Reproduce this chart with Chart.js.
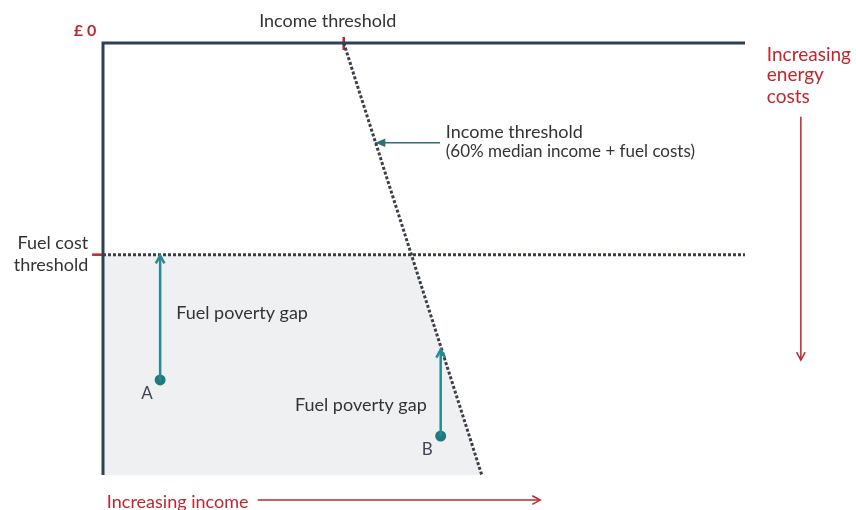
<!DOCTYPE html>
<html lang="en">
<head>
    <title>Fuel poverty gap</title>
    <meta charset="UTF-8">
    <style>
        body {
            margin: 0;
            background: #ffffff;
        }
        #chart-container {
            width: 856px;
            height: 510px;
        }
    </style>
</head>
<body>
<div id="chart-container">
    <canvas id="gap-plot"></canvas>
</div>
<script src="https://cdn.jsdelivr.net/npm/chart.js"></script>
<script>
    // conceptual units: income 0..100 left to right, energy cost 0..100 top to bottom
    const incomeThreshold = [{x: 37.5, y: 0}, {x: 59, y: 100}];
    const fuelCostThreshold = 49;
    const thresholdCrossing = 48;
    const householdNames = ['A', 'B'];
    const householdIncome = [8.9, 52.6];
    const householdCost = [78, 91];
    const gapTarget = [49.2, 71];

    const dark = '#2f3f58';
    const dots = '#3b3f47';
    const teal = '#2b8995';
    const red = '#c0262d';
    const grey = '#333333';

    const line = (data, color, width, extra) => Object.assign({
        type: 'line',
        data: data,
        borderColor: color,
        borderWidth: width,
        pointRadius: 0,
        fill: false,
        tension: 0,
        clip: false,
        order: 0
    }, extra || {});

    const datasets = [
        line([{x: 0, y: fuelCostThreshold}, {x: thresholdCrossing, y: fuelCostThreshold}, incomeThreshold[1]],
            'rgba(0,0,0,0)', 0, {fill: 'start', backgroundColor: '#eff0f2', order: 1}),
        line([{x: 0, y: 100}, {x: 0, y: 0}, {x: 100, y: 0}], dark, 3),
        line([{x: 0, y: fuelCostThreshold}, {x: 100, y: fuelCostThreshold}], dots, 3, {borderDash: [3, 2]}),
        line(incomeThreshold, dots, 3, {borderDash: [3, 2]}),
        line([{x: 37.5, y: -1.4}, {x: 37.5, y: 1.6}], red, 2.5),
        line([{x: -1.7, y: fuelCostThreshold}, {x: 0, y: fuelCostThreshold}], red, 2.5),
        line([{x: 52.5, y: 23.1}, {x: 42.4, y: 23.1}], '#2e6e78', 1.5, {arrow: 'filled'}),
        line([{x: 24.1, y: 105.8}, {x: 68.1, y: 105.8}], red, 1.5, {arrow: 'open'}),
        line([{x: 108.7, y: 17.1}, {x: 108.7, y: 73.4}], red, 1.5, {arrow: 'open'})
    ];
    householdNames.forEach((name, i) => {
        datasets.push(line([{x: householdIncome[i], y: householdCost[i]}, {x: householdIncome[i], y: gapTarget[i]}],
            teal, 2.5, {arrow: 'open'}));
    });
    datasets.push({
        type: 'scatter',
        data: householdNames.map((n, i) => ({x: householdIncome[i], y: householdCost[i]})),
        backgroundColor: '#1f7a7e',
        borderWidth: 0,
        pointRadius: 5.5,
        clip: false,
        order: 0
    });

    const labels = [
        {text: 'Income threshold', x: 35.0, y: -5.1, align: 'center', color: grey, font: '18px Lato'},
        {text: '£ 0', x: -2.8, y: -2.8, align: 'center', color: red, font: 'bold 16px Lato'},
        {text: 'Income threshold', x: 53.4, y: 20.6, align: 'left', color: grey, font: '18px Lato'},
        {text: '(60% median income + fuel costs)', x: 53.4, y: 25.2, align: 'left', color: grey, font: '17px Lato'},
        {text: 'Fuel cost', x: -2.3, y: 46.3, align: 'right', color: grey, font: '18px Lato'},
        {text: 'threshold', x: -2.3, y: 51.4, align: 'right', color: grey, font: '18px Lato'},
        {text: 'Fuel poverty gap', x: 11.4, y: 62.5, align: 'left', color: grey, font: '18px Lato'},
        {text: 'Fuel poverty gap', x: 29.9, y: 83.8, align: 'left', color: grey, font: '18px Lato'},
        {text: 'A', x: 6.85, y: 81.2, align: 'center', color: '#445', font: '17px Lato'},
        {text: 'B', x: 50.5, y: 94, align: 'center', color: '#445', font: '17px Lato'},
        {text: 'Increasing income', x: 0.6, y: 106.3, align: 'left', color: red, font: '18px Lato'},
        {text: 'Increasing', x: 103.4, y: 2.8, align: 'left', color: red, font: '19px Lato'},
        {text: 'energy', x: 103.4, y: 7.4, align: 'left', color: red, font: '19px Lato'},
        {text: 'costs', x: 103.4, y: 12.5, align: 'left', color: red, font: '19px Lato'}
    ];

    const diagramPlugin = {
        id: 'diagram',
        afterDatasetsDraw(chart) {
            const c = chart.ctx;
            const xs = chart.scales.x, ys = chart.scales.y;
            c.save();
            chart.data.datasets.forEach(ds => {
                if (!ds.arrow) return;
                const n = ds.data.length;
                const p = ds.data[n - 1], q = ds.data[n - 2];
                const x1 = xs.getPixelForValue(p.x), y1 = ys.getPixelForValue(p.y);
                const x0 = xs.getPixelForValue(q.x), y0 = ys.getPixelForValue(q.y);
                const a = Math.atan2(y1 - y0, x1 - x0);
                const len = ds.arrow === 'filled' ? 11 : 9;
                const spread = ds.arrow === 'filled' ? 0.4 : 0.5;
                c.strokeStyle = ds.borderColor;
                c.fillStyle = ds.borderColor;
                c.lineWidth = ds.borderWidth;
                c.beginPath();
                c.moveTo(x1 - len * Math.cos(a - spread), y1 - len * Math.sin(a - spread));
                c.lineTo(x1, y1);
                c.lineTo(x1 - len * Math.cos(a + spread), y1 - len * Math.sin(a + spread));
                if (ds.arrow === 'filled') {
                    c.closePath();
                    c.fill();
                } else {
                    c.stroke();
                }
            });
            c.textBaseline = 'middle';
            labels.forEach(l => {
                c.font = l.font;
                c.fillStyle = l.color;
                c.textAlign = l.align;
                c.fillText(l.text, xs.getPixelForValue(l.x), ys.getPixelForValue(l.y));
            });
            c.restore();
        }
    };

    const ctx = document.getElementById('gap-plot').getContext('2d');
    const gap_plot = new Chart(ctx, {
        type: 'line',
        data: {datasets: datasets},
        options: {
            animation: false,
            maintainAspectRatio: false,
            layout: {padding: {left: 103, right: 111, top: 43, bottom: 35}},
            plugins: {legend: {display: false}, tooltip: {enabled: false}},
            scales: {
                x: {type: 'linear', min: 0, max: 100, display: false},
                y: {type: 'linear', min: 0, max: 100, reverse: true, display: false}
            }
        },
        plugins: [diagramPlugin]
    });
</script>
</body>
</html>
